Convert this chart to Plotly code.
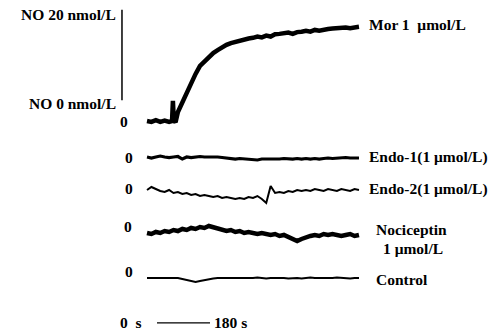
import plotly.graph_objects as go

# time samples (s)
time_s = list(range(0, 721, 15))
time_mor = [0, 15, 30, 45, 60, 75, 85, 88, 91, 97] + list(range(105, 721, 15))

# NO concentration traces (nmol/L), read from the recordings
mor = [0, -0.2, 0.2, -0.2, 0.1, -0.2, 0, 4.6, 0.2, -0.3,
       2.05, 4.3, 6.6, 8.6, 10.7, 12.5, 13.6, 14.5, 15.45, 16.1, 16.8, 17.3, 17.7, 18.0,
       18.2, 18.6, 18.75, 18.9, 19.2, 19.0, 19.4, 19.2, 19.7, 19.8, 19.9, 20.1, 19.8, 20.2,
       20.3, 20.5, 20.3, 20.7, 20.5, 20.8, 20.9, 21.0, 21.1, 21.0, 21.25, 21.1, 21.3, 21.4]
endo1 = [0.23, 0, 0.23, 0.45, 0.23, 0.11, 0.23, 0.34, -0.23, 0.23, 0.11, 0.23, 0.34, 0.23,
         0.23, 0.34, 0.23, 0.11, 0, -0.11, -0.23, -0.11, -0.23, -0.23, -0.34, -0.45, -0.23,
         -0.23, -0.34, -0.23, -0.23, -0.11, -0.23, -0.23, -0.11, -0.23, -0.11, -0.23, -0.11,
         -0.23, -0.11, 0, -0.11, 0, 0, 0.11, 0, 0, 0]
endo2 = [0.23, 0.91, 0.45, 0, -0.23, 0.23, -0.45, -0.23, -0.68, -0.45, -0.91, -0.68, -1.14,
         -0.91, -1.14, -1.36, -1.14, -1.59, -1.36, -1.59, -1.82, -1.59, -1.82, -1.36, -1.59,
         -1.14, -1.82, -2.73, 1.14, -0.45, -0.23, -0.45, 0, -0.23, 0.23, 0, 0.23, 0, 0.45,
         0.23, 0, 0.45, 0.23, 0, 0.45, 0.23, 0, 0.45, 0.23]
nociceptin = [0, -0.23, 0.23, 0, 0.45, 0.23, 0.68, 0.45, 0.91, 0.68, 1.14, 0.91, 1.36, 1.14,
              1.59, 1.36, 1.14, 0.91, 0.45, 0.68, 0.23, 0.45, 0, 0.23, 0, -0.23, 0, -0.23,
              -0.45, -0.23, -0.68, -0.45, -0.91, -1.36, -1.82, -1.36, -0.91, -0.68, -0.45,
              -0.68, -0.23, -0.45, -0.23, -0.45, -0.68, -0.45, -0.23, -0.68, -0.45]
control = [0, 0, -0.11, 0, 0, -0.11, 0, 0, -0.23, -0.45, -0.68, -0.91, -0.68, -0.45, -0.23,
           -0.11, 0, 0, -0.11, 0, -0.11, 0, 0, -0.11, 0, 0.11, 0, -0.11, 0, 0, 0.11, 0,
           -0.11, 0, 0, -0.11, 0, 0.11, 0, 0, -0.11, 0, 0, 0.11, 0, 0, -0.11, 0, 0]

labels = ["Mor 1  μmol/L", "Endo-1(1 μmol/L)", "Endo-2(1 μmol/L)", "Nociceptin", "Control"]
noci_sub_label = "1 μmol/L"
scale_labels = ["NO 20 nmol/L", "NO 0 nmol/L"]
time_labels = ["0  s", "180 s"]
scale_nmol = 20
scale_time = 180

# layout (vertical stacking offsets in nmol/L units, line widths)
offsets = [0, -8.41, -15.91, -25.45, -35.68]
widths = [4.5, 3.2, 2, 4.5, 2]
series = [mor, endo1, endo2, nociceptin, control]
times = [time_mor, time_s, time_s, time_s, time_s]

FONT = dict(family="Liberation Serif", size=15.5, color="black")

fig = go.Figure()
for t, vals, off, w in zip(times, series, offsets, widths):
    fig.add_trace(go.Scatter(x=t, y=[v + off for v in vals], mode="lines",
                             line=dict(color="black", width=w), hoverinfo="skip",
                             showlegend=False))

ann = []
label_x = 748
label_dx = [0, 0, 0, 22, 22]
label_y = [21.9, -8.2, -15.5, -24.6, -36.1]
for lab, ly, dx in zip(labels, label_y, label_dx):
    ann.append(dict(x=label_x + dx, y=ly, text="<b>" + lab + "</b>",
                    xanchor="left", yanchor="middle", showarrow=False, font=FONT))
ann.append(dict(x=label_x + 48, y=-28.9, text="<b>" + noci_sub_label + "</b>",
                xanchor="left", yanchor="middle", showarrow=False, font=FONT))

zero_x = [-78, -62, -62, -64, -62]
zero_y = [0, -8.2, -15.3, -23.9, -34.1]
for zx, zy in zip(zero_x, zero_y):
    ann.append(dict(x=zx, y=zy, text="<b>0</b>", xanchor="center", yanchor="middle",
                    showarrow=False, font=FONT))

bar_x = -85
bar_bottom = 4.1
ann.append(dict(x=bar_x - 14, y=bar_bottom + scale_nmol, text="<b>" + scale_labels[0] + "</b>",
                xanchor="right", yanchor="middle", showarrow=False, font=FONT))
ann.append(dict(x=bar_x - 14, y=bar_bottom - 0.1, text="<b>" + scale_labels[1] + "</b>",
                xanchor="right", yanchor="middle", showarrow=False, font=FONT))

tb_start = 34
tb_y = -45.9
ann.append(dict(x=tb_start - 45, y=tb_y, text="<b>" + time_labels[0] + "</b>",
                xanchor="right", yanchor="middle", showarrow=False, font=FONT))
ann.append(dict(x=tb_start + scale_time + 8, y=tb_y, text="<b>" + time_labels[1] + "</b>",
                xanchor="left", yanchor="middle", showarrow=False, font=FONT))

shapes = [
    dict(type="line", x0=bar_x, x1=bar_x, y0=bar_bottom + 0.6, y1=bar_bottom + scale_nmol + 1.2,
         line=dict(color="black", width=1.5)),
    dict(type="line", x0=tb_start, x1=tb_start + scale_time, y0=tb_y, y1=tb_y,
         line=dict(color="black", width=1.2)),
]

fig.update_layout(
    width=497, height=333,
    margin=dict(l=0, r=0, t=0, b=0),
    paper_bgcolor="white", plot_bgcolor="white",
    xaxis=dict(range=[-499.3, 1188.8], visible=False, fixedrange=True),
    yaxis=dict(range=[-48.18, 27.5], visible=False, fixedrange=True),
    annotations=ann, shapes=shapes,
)

fig.write_html("out.html", config={"displayModeBar": False},
               post_script="document.body.style.margin='0';document.body.style.overflow='hidden';")
